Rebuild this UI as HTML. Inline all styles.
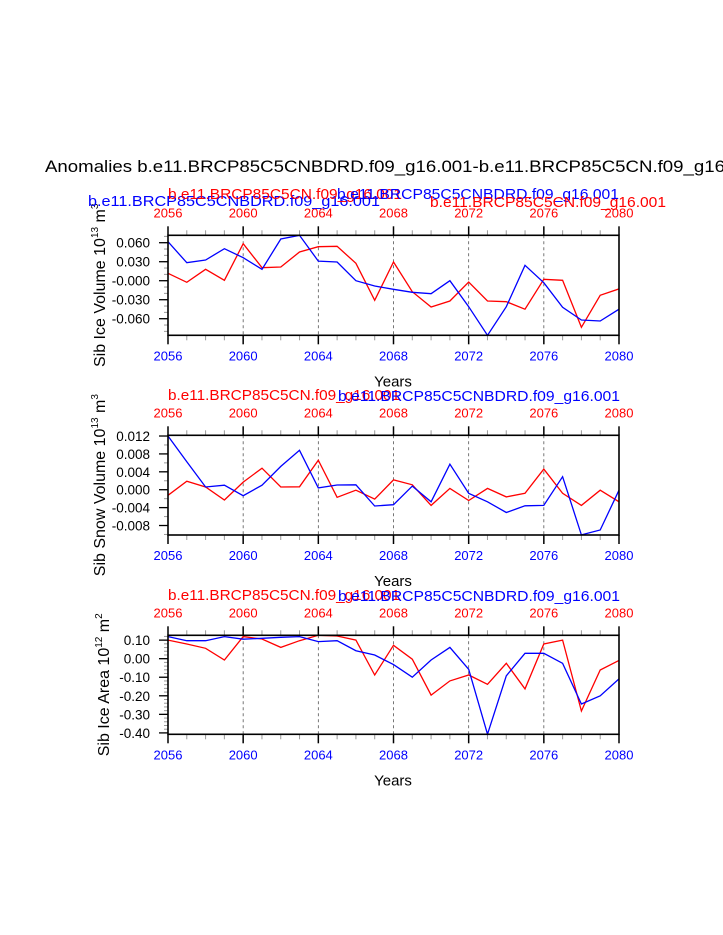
<!DOCTYPE html>
<html><head><meta charset="utf-8"><style>
html,body{margin:0;padding:0;background:#fff;overflow:hidden}
svg{display:block;font-family:"Liberation Sans",sans-serif}
</style></head><body>
<svg id="chart" width="723" height="935" viewBox="0 0 723 935" xmlns="http://www.w3.org/2000/svg">
<text x="45" y="172" font-size="17" textLength="680" lengthAdjust="spacingAndGlyphs">Anomalies b.e11.BRCP85C5CNBDRD.f09_g16.001-b.e11.BRCP85C5CN.f09_g16</text>
</svg>
<script>
const years = [];
for (let y = 2056; y <= 2080; y++) years.push(y);
const xTickLabels = ["2056","2060","2064","2068","2072","2076","2080"];

const iceVolBlue = [0.0616,0.0284,0.0327,0.0505,0.0363,0.018,0.0658,0.0717,0.031,0.0295,0.0,-0.0084,-0.0136,-0.0183,-0.0205,0.0,-0.041,-0.0862,-0.041,0.0243,-0.0032,-0.042,-0.062,-0.0636,-0.045];
const iceVolRed = [0.0117,-0.0025,0.018,0.0006,0.0584,0.0205,0.0216,0.0453,0.0537,0.0543,0.0275,-0.031,0.0295,-0.0174,-0.0415,-0.032,-0.002,-0.032,-0.0332,-0.045,0.0022,0.0006,-0.0736,-0.023,-0.013];
const iceVolTicks = [0.06,0.03,0,-0.03,-0.06];
const iceVolTickLabels = ["0.060","0.030","-0.000","-0.030","-0.060"];

const snowBlue = [0.012,0.00626,0.0006,0.001,-0.00134,0.001,0.0052,0.0088,0.0004,0.00105,0.0011,-0.00364,-0.00335,0.0008,-0.0027,0.0057,-0.0008,-0.0027,-0.0051,-0.0036,-0.0035,0.0029,-0.0101,-0.009,-0.0001];
const snowRed = [-0.00125,0.0019,0.0006,-0.0023,0.0017,0.0048,0.0006,0.00065,0.0066,-0.0017,-0.0001,-0.0021,0.0022,0.0011,-0.0035,0.0003,-0.0024,0.0003,-0.0016,-0.0008,0.0046,-0.0008,-0.0035,-0.0001,-0.0027];
const snowTicks = [0.012,0.008,0.004,0,-0.004,-0.008];
const snowTickLabels = ["0.012","0.008","0.004","0.000","-0.004","-0.008"];

const areaBlue = [0.119,0.097,0.097,0.119,0.105,0.11,0.115,0.119,0.092,0.097,0.043,0.02,-0.032,-0.1,-0.007,0.061,-0.057,-0.407,-0.092,0.029,0.029,-0.025,-0.244,-0.2,-0.109];
const areaRed = [0.1,0.079,0.056,-0.007,0.119,0.106,0.061,0.097,0.126,0.122,0.1,-0.088,0.072,-0.003,-0.196,-0.12,-0.088,-0.138,-0.025,-0.163,0.079,0.1,-0.282,-0.061,-0.009];
const areaTicks = [0.1,0,-0.1,-0.2,-0.3,-0.4];
const areaTickLabels = ["0.10","0.00","-0.10","-0.20","-0.30","-0.40"];

const NS = "http://www.w3.org/2000/svg";
const svg = document.getElementById("chart");
function mk(tag, attrs, parent){
  const e = document.createElementNS(NS, tag);
  for (const k in attrs) e.setAttribute(k, attrs[k]);
  (parent||svg).appendChild(e);
  return e;
}
const X0 = 168, X1 = 619;
function xs(yr){ return X0 + (yr - 2056) / 24 * (X1 - X0); }

function panel(cfg){
  const g = mk("g", {});
  
  
  const T = cfg.top, B = cfg.bottom;
  const ys = v => T + (cfg.vmax - v) / (cfg.vmax - cfg.vmin) * (B - T);
  [2060,2064,2068,2072,2076].forEach(yr => {
    const l = mk("line", {x1:xs(yr), x2:xs(yr), y1:T, y2:B, stroke:"#555", "stroke-width":0.8, "stroke-dasharray":"3,3"}, g);
    
    
  });
  years.forEach(yr => {
    const major = (yr - 2056) % 4 === 0;
    const len = major ? 9 : 5;
    const col = major ? "#000" : "#999";
    mk("line", {x1:xs(yr), x2:xs(yr), y1:T, y2:T-len, stroke:col, "stroke-width":major?1.5:1}, g);
    mk("line", {x1:xs(yr), x2:xs(yr), y1:B, y2:B+len, stroke:col, "stroke-width":major?1.5:1}, g);
  });
  xTickLabels.forEach(lb => {
    const x = xs(+lb);
    const t1 = mk("text", {x:x, y:T-18, "font-size":13, fill:"#f00", "text-anchor":"middle"}, g);
    t1.textContent = lb;
    
    
    const t2 = mk("text", {x:x, y:B+25, "font-size":13, fill:"#00f", "text-anchor":"middle"}, g);
    t2.textContent = lb;
    
    
  });
  const mstep = cfg.minor;
  for (let v = Math.ceil(cfg.vmin / mstep) * mstep; v <= cfg.vmax + 1e-9; v += mstep) {
    const y = ys(v);
    mk("line", {x1:X0, x2:X0-4, y1:y, y2:y, stroke:"#999", "stroke-width":1}, g);
  }
  cfg.ticks.forEach((v, i) => {
    const y = ys(v);
    mk("line", {x1:X0, x2:X0-9, y1:y, y2:y, stroke:"#000", "stroke-width":1.3}, g);
    const t = mk("text", {x:150, y:y+5, "font-size":13.5, "text-anchor":"end"}, g);
    t.textContent = cfg.tickLabels[i];
    
    
  });
  const clip = mk("clipPath", {id:"clip"+cfg.name}, g);
  mk("rect", {x:X0, y:T-1, width:X1-X0, height:B-T+2}, clip);
  [[cfg.red,"#f00","red-series-line"],[cfg.blue,"#00f","blue-series-line"]].forEach(([arr,col,nm]) => {
    const pts = arr.map((v,i) => xs(years[i]).toFixed(1) + "," + ys(v).toFixed(1)).join(" ");
    const p = mk("polyline", {points:pts, fill:"none", stroke:col, "stroke-width":1.3, "clip-path":"url(#clip"+cfg.name+")"}, g);
    
    
  });
  const r = mk("rect", {x:X0, y:T, width:X1-X0, height:B-T, fill:"none", stroke:"#000", "stroke-width":1.6}, g);
  
  
  const xt = mk("text", {x:393, y:B+51, "font-size":15, "text-anchor":"middle"}, g);
  xt.textContent = "Years";
  
  
  const cy = (T+B)/2;
  const yt = mk("text", {x:0, y:0, "font-size":16, "text-anchor":"middle", transform:"translate("+cfg.ytx+","+cy+") rotate(-90)"}, g);
  
  
  yt.innerHTML = cfg.ytitle + '<tspan font-size="10" dy="-7">' + cfg.exp + '</tspan><tspan dy="7"> m</tspan><tspan font-size="10" dy="-7">' + cfg.unitExp + '</tspan>';
  cfg.subs.forEach(s => {
    const t = mk("text", {x:s.x, y:s.y, "font-size":15, fill:s.c, "text-anchor":s.a, textLength:s.w, lengthAdjust:"spacingAndGlyphs"}, g);
    t.textContent = s.t;
    
    
  });
}
const RN = "b.e11.BRCP85C5CN.f09_g16.001", BN = "b.e11.BRCP85C5CNBDRD.f09_g16.001";
panel({name:"ice-volume-panel", top:235.3, bottom:335.3, vmax:0.0717, vmin:-0.0862, minor:0.01,
  ticks:iceVolTicks, tickLabels:iceVolTickLabels, blue:iceVolBlue, red:iceVolRed,
  ytitle:"Sib Ice Volume 10", exp:"13", unitExp:"3", ytx:105,
  subs:[{x:88,y:206,c:"#00f",a:"start",w:292,t:BN},{x:168,y:199,c:"#f00",a:"start",w:234,t:RN},
        {x:619,y:199,c:"#00f",a:"end",w:282,t:BN},{x:430,y:207,c:"#f00",a:"start",w:236,t:RN}]});
panel({name:"snow-volume-panel", top:435.3, bottom:535, vmax:0.01216, vmin:-0.01012, minor:0.002,
  ticks:snowTicks, tickLabels:snowTickLabels, blue:snowBlue, red:snowRed,
  ytitle:"Sib Snow Volume 10", exp:"13", unitExp:"3", ytx:105,
  subs:[{x:168,y:400,c:"#f00",a:"start",w:232,t:RN},{x:620,y:401,c:"#00f",a:"end",w:282,t:BN}]});
panel({name:"ice-area-panel", top:635.3, bottom:734.3, vmax:0.126, vmin:-0.4075, minor:0.02,
  ticks:areaTicks, tickLabels:areaTickLabels, blue:areaBlue, red:areaRed,
  ytitle:"Sib Ice Area 10", exp:"12", unitExp:"2", ytx:109,
  subs:[{x:168,y:600,c:"#f00",a:"start",w:232,t:RN},{x:620,y:601,c:"#00f",a:"end",w:282,t:BN}]});
</script>
</body></html>
